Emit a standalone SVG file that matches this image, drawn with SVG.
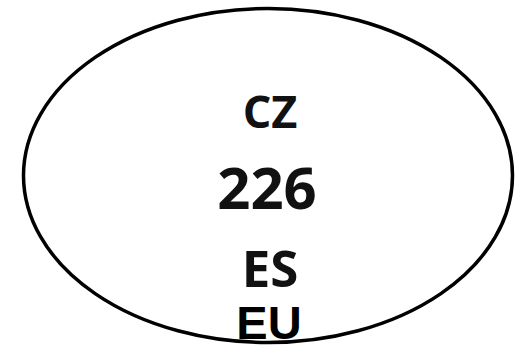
<svg xmlns="http://www.w3.org/2000/svg" width="528" height="350" viewBox="0 0 528 350">
<style>
.lbl{font-family:"Open Sans","Noto Sans","DejaVu Sans",sans-serif;font-weight:bold;fill:#111;text-anchor:middle}
.eu{font-family:"Liberation Sans",Arial,sans-serif;font-weight:bold;fill:#000;text-anchor:middle}
</style>
<rect width="528" height="350" fill="#fff"/>
<g id="oval">
<ellipse cx="268" cy="175.5" rx="244.5" ry="167" fill="none" stroke="#000" stroke-width="3.5"/>
<text class="lbl" x="270" y="128" font-size="45">CZ</text>
<text class="lbl" x="267" y="209" font-size="58">226</text>
<text class="lbl" x="270" y="287" font-size="51">ES</text>
<text class="eu" x="269" y="339" font-size="47">EU</text>
</g>
</svg>
